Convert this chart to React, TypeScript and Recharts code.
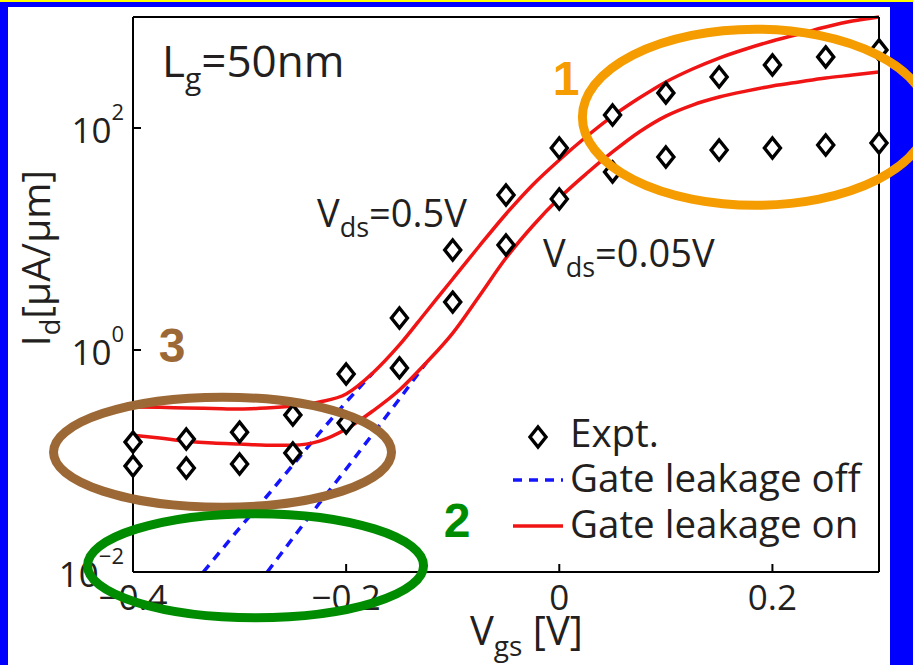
import React from "react";
import {
  ComposedChart,
  Legend,
  Line,
  ReferenceDot,
  Scatter,
  XAxis,
  YAxis,
} from "recharts";

// Measured transfer characteristics (Lg = 50 nm)
const VGS_EXPT = [-0.4, -0.35, -0.3, -0.25, -0.2, -0.15, -0.1, -0.05, 0, 0.05, 0.1, 0.15, 0.2, 0.25, 0.3];
const ID_EXPT_VDS05 = [0.148, 0.158, 0.182, 0.259, 0.608, 1.94, 7.96, 24.9, 66.1, 131, 207, 288, 370, 437, 505];
const ID_EXPT_VDS005 = [0.09, 0.0865, 0.094, 0.118, 0.22, 0.69, 2.7, 8.83, 22.9, 40.2, 54.8, 63.4, 66.1, 70.3, 73.3];

// Simulation with gate leakage on
const VGS_SIM = [
  -0.4, -0.375, -0.35, -0.325, -0.3, -0.275, -0.25, -0.225, -0.2, -0.175, -0.15, -0.125, -0.1, -0.075, -0.05,
  -0.025, 0, 0.025, 0.05, 0.075, 0.1, 0.125, 0.15, 0.175, 0.2, 0.225, 0.25, 0.275, 0.3,
];
const ID_ON_VDS05 = [
  0.307, 0.305, 0.3, 0.297, 0.294, 0.3, 0.313, 0.34, 0.402, 0.621, 1.11, 2.2, 4.36, 8.65, 16.8,
  30.7, 51.5, 83, 128, 186, 260, 340, 427, 515, 608, 703, 813, 920, 1000,
];
const ID_ON_VDS005 = [
  0.171, 0.161, 0.151, 0.145, 0.142, 0.139, 0.139, 0.151, 0.194, 0.282, 0.436, 0.764, 1.42, 3.07, 6.74,
  13.1, 23.4, 38.5, 60.8, 92, 128, 161, 190, 215, 239, 260, 282, 300, 320,
];

// Simulation with gate leakage off (only the part below the merge with the "on" curves)
const VGS_OFF_VDS05 = [-0.334, -0.3, -0.275, -0.25, -0.225, -0.2, -0.175];
const ID_OFF_VDS05 = [0.01, 0.0249, 0.0474, 0.092, 0.179, 0.34, 0.621];
const VGS_OFF_VDS005 = [-0.274, -0.25, -0.225, -0.2, -0.175, -0.15, -0.125];
const ID_OFF_VDS005 = [0.01, 0.0202, 0.0418, 0.0847, 0.175, 0.362, 0.764];

const X_TICKS = [-0.4, -0.2, 0, 0.2];
const Y_TICKS = [0.01, 1, 100];

const toRows = (xs: number[], ys: number[]) => xs.map((vgs, i) => ({ vgs, id: ys[i] }));

const exptHigh = toRows(VGS_EXPT, ID_EXPT_VDS05);
const exptLow = toRows(VGS_EXPT, ID_EXPT_VDS005);
const onHigh = toRows(VGS_SIM, ID_ON_VDS05);
const onLow = toRows(VGS_SIM, ID_ON_VDS005);
const offHigh = toRows(VGS_OFF_VDS05, ID_OFF_VDS05);
const offLow = toRows(VGS_OFF_VDS005, ID_OFF_VDS005);

const FONT = "'Open Sans', 'DejaVu Sans', sans-serif";
const INK = "#231f20";
const RED = "#f01414";
const BLUE = "#1414ff";

// highlighted regions: centre in data units, radii in px
const CALLOUTS = [
  { key: "c1", vgs: 0.184, id: 125, rx: 173, ry: 88, color: "#f59c00" },
  { key: "c3", vgs: -0.316, id: 0.12, rx: 169, ry: 55, color: "#9c6936" },
  { key: "c2", vgs: -0.285, id: 0.0114, rx: 168, ry: 52, color: "#008c00" },
];
const CALLOUT_NUMBERS = [
  { key: "n1", text: "1", vgs: 0.0063, id: 200, color: "#f59c00" },
  { key: "n3", text: "3", vgs: -0.3634, id: 0.78, color: "#9c6936" },
  { key: "n2", text: "2", vgs: -0.096, id: 0.0207, color: "#008c00" },
];

function Diamond(props: { cx?: number; cy?: number }) {
  const { cx, cy } = props;
  if (cx == null || cy == null) return null;
  const w = 8;
  const h = 10;
  return (
    <polygon
      points={`${cx},${cy - h} ${cx + w},${cy} ${cx},${cy + h} ${cx - w},${cy}`}
      fill="#fff"
      stroke="#000"
      strokeWidth={3.4}
    />
  );
}

function formatVgs(v: number) {
  if (Math.abs(v) < 1e-9) return "0";
  return (v < 0 ? "\u2212" : "") + Math.abs(v).toFixed(1);
}

function BottomTick(props: any) {
  const { x, y, payload } = props;
  return (
    <text x={x} y={y + 46} textAnchor="middle" fontFamily={FONT} fontSize={35} fill={INK}>
      {formatVgs(payload.value)}
    </text>
  );
}

function LeftTick(props: any) {
  const { x, y, payload } = props;
  const exp = Math.round(Math.log10(payload.value));
  return (
    <text x={x - 17} y={y + 15} textAnchor="end" fontFamily={FONT} fontSize={35} fill={INK}>
      <tspan>10</tspan>
      <tspan dy={-23} fontSize={22}>
        {exp < 0 ? `\u2212${-exp}` : `${exp}`}
      </tspan>
    </text>
  );
}

const NoLabel = () => <g />;

function XLabel(props: any) {
  const vb = props.viewBox ?? { x: 133, y: 572 };
  return (
    <text x={vb.x + 337} y={vb.y + 73} fontFamily={FONT} fontSize={40} fill={INK}>
      <tspan>V</tspan>
      <tspan dy={11} fontSize={28}>gs</tspan>
      <tspan dy={-11}> [V]</tspan>
    </text>
  );
}

function YLabel() {
  return (
    <text
      transform="translate(50,258) rotate(-90)"
      textAnchor="middle"
      fontFamily={FONT}
      fontSize={39}
      fill={INK}
    >
      <tspan>I</tspan>
      <tspan dy={10} fontSize={27}>d</tspan>
      <tspan dy={-10}>[μA/μm]</tspan>
    </text>
  );
}

function LegendBox() {
  return (
    <svg width={390} height={140} style={{ display: "block" }}>
      <Diamond cx={33} cy={27} />
      <text x={65} y={37} fontFamily={FONT} fontSize={38.5} fill={INK}>Expt.</text>
      <line x1={8} x2={58} y1={70} y2={70} stroke={BLUE} strokeWidth={3.5} strokeDasharray="9 7" />
      <text x={65} y={82} fontFamily={FONT} fontSize={38.5} fill={INK}>Gate leakage off</text>
      <line x1={8} x2={58} y1={116} y2={116} stroke={RED} strokeWidth={3.5} />
      <text x={65} y={128} fontFamily={FONT} fontSize={38.5} fill={INK}>Gate leakage on</text>
    </svg>
  );
}

export default function App() {
  return (
    <div style={{ position: "fixed", left: 0, top: 0, width: 913, height: 665, background: "#0000ff" }}>
      <div style={{ position: "absolute", left: 0, top: 0, width: 913, height: 2, background: "#ffff00" }} />
      <div style={{ position: "absolute", left: 8, top: 7, width: 882, height: 658, background: "#fff" }} />
      <div style={{ position: "absolute", left: 0, top: 0 }}>
        <ComposedChart width={913} height={665} margin={{ top: 0, right: 0, bottom: 0, left: 0 }}>
          <XAxis
            dataKey="vgs"
            type="number"
            domain={[-0.4, 0.3]}
            ticks={X_TICKS}
            height={93}
            tickSize={-8}
            tickMargin={0}
            tick={BottomTick}
            axisLine={{ stroke: "#000", strokeWidth: 2 }}
            tickLine={{ stroke: "#000", strokeWidth: 2 }}
            label={<XLabel />}
          />
          <XAxis
            xAxisId="top"
            orientation="top"
            dataKey="vgs"
            type="number"
            domain={[-0.4, 0.3]}
            ticks={X_TICKS}
            height={17}
            tickSize={-8}
            tick={NoLabel}
            axisLine={{ stroke: "#000", strokeWidth: 2 }}
            tickLine={{ stroke: "#000", strokeWidth: 2 }}
          />
          <YAxis
            scale="log"
            type="number"
            domain={[0.01, 1000]}
            ticks={Y_TICKS}
            width={133}
            tickSize={-8}
            tickMargin={0}
            tick={LeftTick}
            axisLine={{ stroke: "#000", strokeWidth: 2 }}
            tickLine={{ stroke: "#000", strokeWidth: 2 }}
            label={<YLabel />}
          />
          <YAxis
            yAxisId="right"
            orientation="right"
            scale="log"
            type="number"
            domain={[0.01, 1000]}
            ticks={Y_TICKS}
            width={34}
            tickSize={-8}
            tick={NoLabel}
            axisLine={{ stroke: "#000", strokeWidth: 2 }}
            tickLine={{ stroke: "#000", strokeWidth: 2 }}
          />

          <Line data={offHigh} dataKey="id" type="linear" stroke={BLUE} strokeWidth={3.5} strokeDasharray="9 7" dot={false} activeDot={false} isAnimationActive={false} />
          <Line data={offLow} dataKey="id" type="linear" stroke={BLUE} strokeWidth={3.5} strokeDasharray="9 7" dot={false} activeDot={false} isAnimationActive={false} />
          <Line data={onHigh} dataKey="id" type="monotone" stroke={RED} strokeWidth={3.5} dot={false} activeDot={false} isAnimationActive={false} />
          <Line data={onLow} dataKey="id" type="monotone" stroke={RED} strokeWidth={3.5} dot={false} activeDot={false} isAnimationActive={false} />
          <Scatter data={exptHigh} dataKey="id" shape={<Diamond />} isAnimationActive={false} />
          <Scatter data={exptLow} dataKey="id" shape={<Diamond />} isAnimationActive={false} />

          {/* in-plot annotations, anchored at left baseline */}
          <ReferenceDot
            x={-0.3728}
            y={288}
            r={1}
            ifOverflow="visible"
            shape={(p: any) => (
              <text x={p.cx} y={p.cy} fontFamily={FONT} fontSize={44} fill={INK}>
                <tspan>L</tspan>
                <tspan dy={12} fontSize={30}>g</tspan>
                <tspan dy={-12}>=50nm</tspan>
              </text>
            )}
          />
          <ReferenceDot
            x={-0.2273}
            y={12.83}
            r={1}
            ifOverflow="visible"
            shape={(p: any) => (
              <text x={p.cx} y={p.cy} fontFamily={FONT} fontSize={38} fill={INK}>
                <tspan>V</tspan>
                <tspan dy={10} fontSize={27}>ds</tspan>
                <tspan dy={-10}>=0.5V</tspan>
              </text>
            )}
          />
          <ReferenceDot
            x={-0.0153}
            y={5.59}
            r={1}
            ifOverflow="visible"
            shape={(p: any) => (
              <text x={p.cx} y={p.cy} fontFamily={FONT} fontSize={38} fill={INK}>
                <tspan>V</tspan>
                <tspan dy={10} fontSize={27}>ds</tspan>
                <tspan dy={-10}>=0.05V</tspan>
              </text>
            )}
          />

          {CALLOUTS.map((c) => (
            <ReferenceDot
              key={c.key}
              x={c.vgs}
              y={c.id}
              r={1}
              ifOverflow="visible"
              zIndex={2000}
              shape={(p: any) => (
                <ellipse cx={p.cx} cy={p.cy} rx={c.rx} ry={c.ry} fill="none" stroke={c.color} strokeWidth={9} />
              )}
            />
          ))}
          {CALLOUT_NUMBERS.map((n) => (
            <ReferenceDot
              key={n.key}
              x={n.vgs}
              y={n.id}
              r={1}
              ifOverflow="visible"
              zIndex={2000}
              shape={(p: any) => (
                <text
                  x={p.cx}
                  y={p.cy}
                  textAnchor="middle"
                  fontFamily="'Liberation Sans', Arial, sans-serif"
                  fontWeight="bold"
                  fontSize={48}
                  fill={n.color}
                >
                  {n.text}
                </text>
              )}
            />
          ))}

          <Legend
            layout="vertical"
            align="center"
            verticalAlign="middle"
            wrapperStyle={{ left: 505, top: 410, width: 390 }}
            content={() => <LegendBox />}
          />
        </ComposedChart>
      </div>
    </div>
  );
}
